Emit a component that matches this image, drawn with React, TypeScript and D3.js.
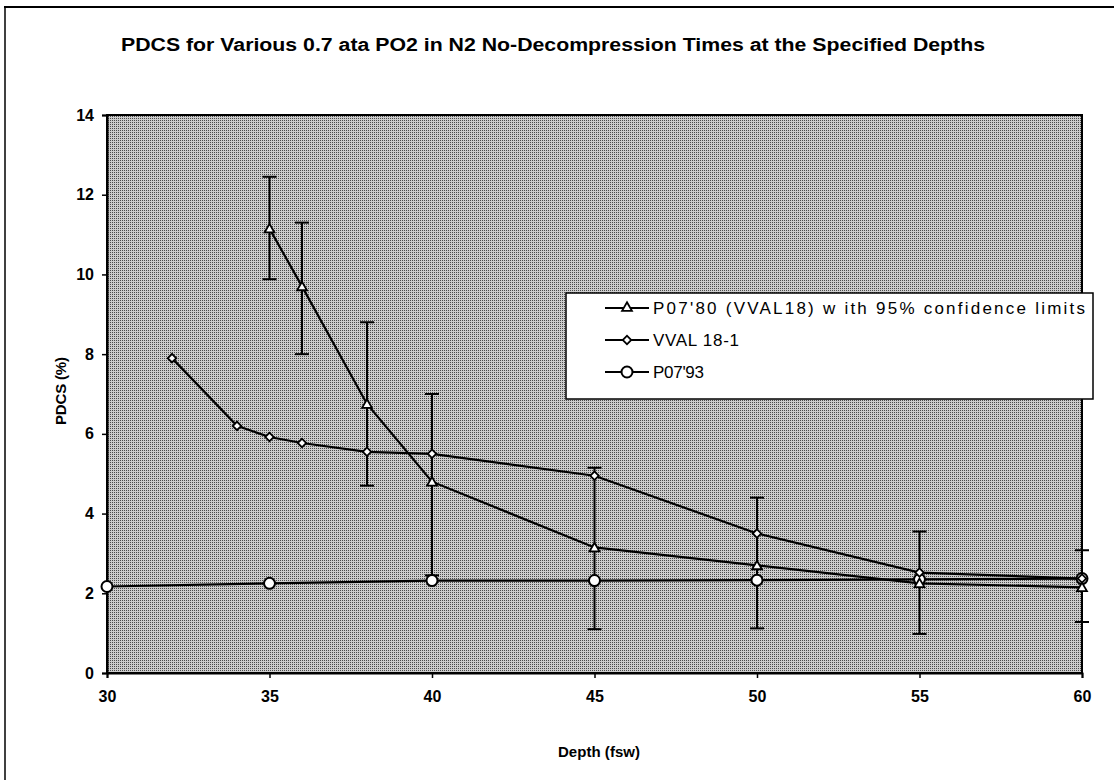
import { useEffect, useRef } from 'react';
import * as d3 from 'd3';

const depthsP0780 = [35, 36, 38, 40, 45, 50, 55, 60];
const pdcsP0780 = [11.15, 9.7, 6.75, 4.8, 3.15, 2.7, 2.25, 2.15];
const upperP0780 = [12.45, 11.3, 8.8, 7.0, 5.15, 4.4, 3.55, 3.08];
const lowerP0780 = [9.88, 8.0, 4.7, 2.45, 1.1, 1.12, 0.98, 1.28];

const depthsVval = [32, 34, 35, 36, 38, 40, 45, 50, 55, 60];
const pdcsVval = [7.9, 6.2, 5.92, 5.77, 5.55, 5.5, 4.95, 3.5, 2.52, 2.37];

const depthsP0793 = [30, 35, 40, 45, 50, 55, 60];
const pdcsP0793 = [2.17, 2.25, 2.32, 2.32, 2.33, 2.35, 2.37];

const xTicks = [30, 35, 40, 45, 50, 55, 60];
const yTicks = [0, 2, 4, 6, 8, 10, 12, 14];
const legendLabels = [
  "P07'80 (VVAL18) w ith 95% confidence limits",
  'VVAL 18-1',
  "P07'93",
];

type Pt = { x: number; y: number };
type G = d3.Selection<SVGGElement, unknown, null, undefined>;

export default function App() {
  const svgRef = useRef<SVGSVGElement>(null);

  useEffect(() => {
    if (!svgRef.current) return;
    const svg = d3.select(svgRef.current);
    svg.selectAll('*').remove();

    const W = 1114;
    const H = 780;
    const plot = { left: 107, right: 1082, top: 115, bottom: 673 };
    const font = '"Liberation Sans", Arial, sans-serif';

    const x = d3.scaleLinear().domain([30, 60]).range([plot.left, plot.right]);
    const y = d3.scaleLinear().domain([0, 14]).range([plot.bottom, plot.top]);

    svg.attr('width', W).attr('height', H).attr('viewBox', `0 0 ${W} ${H}`);
    svg.append('rect').attr('width', W).attr('height', H).attr('fill', '#fff');

    // dithered grey background, like the scanned original
    const defs = svg.append('defs');
    const pat = defs.append('pattern')
      .attr('id', 'dither')
      .attr('width', 2).attr('height', 2)
      .attr('patternUnits', 'userSpaceOnUse');
    pat.append('rect').attr('width', 2).attr('height', 2).attr('fill', '#cdcdcd');
    pat.append('rect').attr('width', 1).attr('height', 1).attr('fill', '#4c4c4c');

    // outer frame (top and left edges only)
    svg.append('line')
      .attr('x1', 4).attr('x2', W).attr('y1', 7).attr('y2', 7)
      .attr('stroke', '#000').attr('stroke-width', 2);
    svg.append('line')
      .attr('x1', 5).attr('x2', 5).attr('y1', 7).attr('y2', H)
      .attr('stroke', '#000').attr('stroke-width', 1.5);

    // title
    svg.append('text')
      .attr('x', 553).attr('y', 51)
      .attr('text-anchor', 'middle')
      .attr('font-family', font)
      .attr('font-weight', 'bold')
      .attr('font-size', '18px')
      .attr('textLength', 864)
      .attr('lengthAdjust', 'spacingAndGlyphs')
      .text('PDCS for Various 0.7 ata PO2 in N2 No-Decompression Times at the Specified Depths');

    // plot area
    svg.append('rect')
      .attr('x', plot.left).attr('y', plot.top)
      .attr('width', plot.right - plot.left)
      .attr('height', plot.bottom - plot.top)
      .attr('fill', 'url(#dither)')
      .attr('stroke', '#000')
      .attr('stroke-width', 2);

    // axes
    const gx = svg.append('g')
      .attr('transform', `translate(0, ${plot.bottom})`)
      .call(d3.axisBottom(x).tickValues(xTicks).tickSize(5).tickPadding(13));
    gx.select('.domain').attr('stroke', '#000').attr('stroke-width', 2);
    gx.selectAll('.tick line').attr('stroke', '#000').attr('stroke-width', 1.5);
    gx.selectAll('.tick text')
      .attr('font-family', font).attr('font-size', '16px').attr('font-weight', 'bold').attr('fill', '#000');

    const gy = svg.append('g')
      .attr('transform', `translate(${plot.left}, 0)`)
      .call(d3.axisLeft(y).tickValues(yTicks).tickSize(5).tickPadding(8));
    gy.select('.domain').attr('stroke', '#000').attr('stroke-width', 2);
    gy.selectAll('.tick line').attr('stroke', '#000').attr('stroke-width', 1.5);
    gy.selectAll('.tick text')
      .attr('font-family', font).attr('font-size', '16px').attr('font-weight', 'bold').attr('fill', '#000');

    svg.append('text')
      .attr('x', 599).attr('y', 757)
      .attr('text-anchor', 'middle')
      .attr('font-family', font).attr('font-weight', 'bold').attr('font-size', '15px')
      .attr('textLength', 82)
      .text('Depth (fsw)');

    svg.append('text')
      .attr('transform', 'translate(66, 391) rotate(-90)')
      .attr('text-anchor', 'middle')
      .attr('font-family', font).attr('font-weight', 'bold').attr('font-size', '15px')
      .attr('textLength', 68)
      .text('PDCS (%)');

    const line = d3.line<Pt>().x(d => x(d.x)).y(d => y(d.y));
    const toPts = (xs: number[], ys: number[]) => xs.map((v, i) => ({ x: v, y: ys[i] }));

    const p80 = toPts(depthsP0780, pdcsP0780);
    const vval = toPts(depthsVval, pdcsVval);
    const p93 = toPts(depthsP0793, pdcsP0793);

    const g = svg.append('g');

    // error bars for P07'80
    depthsP0780.forEach((d, i) => {
      const cx = x(d);
      g.append('line')
        .attr('x1', cx).attr('x2', cx)
        .attr('y1', y(upperP0780[i])).attr('y2', y(lowerP0780[i]))
        .attr('stroke', '#000').attr('stroke-width', 2);
      [upperP0780[i], lowerP0780[i]].forEach(v => {
        g.append('line')
          .attr('x1', cx - 7).attr('x2', cx + 7)
          .attr('y1', y(v)).attr('y2', y(v))
          .attr('stroke', '#000').attr('stroke-width', 2);
      });
    });

    [p93, vval, p80].forEach(pts => {
      g.append('path')
        .datum(pts)
        .attr('fill', 'none')
        .attr('stroke', '#000')
        .attr('stroke-width', 2.2)
        .attr('d', line);
    });

    const triangle = d3.symbol().type(d3.symbolTriangle).size(42);
    const square = d3.symbol().type(d3.symbolSquare).size(36);

    const drawCircle = (sel: G, cx: number, cy: number) =>
      sel.append('circle')
        .attr('cx', cx).attr('cy', cy).attr('r', 5.5)
        .attr('fill', '#fff').attr('stroke', '#000').attr('stroke-width', 2);
    const drawTriangle = (sel: G, cx: number, cy: number) =>
      sel.append('path')
        .attr('d', triangle() as string)
        .attr('transform', `translate(${cx}, ${cy})`)
        .attr('fill', '#fff').attr('stroke', '#000').attr('stroke-width', 1.8);
    const drawDiamond = (sel: G, cx: number, cy: number) =>
      sel.append('path')
        .attr('d', square() as string)
        .attr('transform', `translate(${cx}, ${cy}) rotate(45)`)
        .attr('fill', '#fff').attr('stroke', '#000').attr('stroke-width', 1.8);

    p93.forEach(p => drawCircle(g, x(p.x), y(p.y)));
    vval.forEach(p => drawDiamond(g, x(p.x), y(p.y)));
    p80.forEach(p => drawTriangle(g, x(p.x), y(p.y) + 1));

    // legend
    const lg = svg.append('g').attr('transform', 'translate(566, 293)');
    lg.append('rect')
      .attr('width', 527).attr('height', 106)
      .attr('fill', '#fff').attr('stroke', '#000').attr('stroke-width', 1.5);
    const labelWidths = [432, 86, 51];
    legendLabels.forEach((label, i) => {
      const ly = 15 + i * 32;
      const row = lg.append('g');
      row.append('line')
        .attr('x1', 39).attr('x2', 83).attr('y1', ly).attr('y2', ly)
        .attr('stroke', '#000').attr('stroke-width', 2);
      if (i === 0) drawTriangle(row, 61, ly);
      else if (i === 1) drawDiamond(row, 61, ly);
      else drawCircle(row, 61, ly);
      row.append('text')
        .attr('x', 87).attr('y', ly + 6)
        .attr('font-family', font).attr('font-size', '17px')
        .attr('textLength', labelWidths[i])
        .text(label);
    });
  }, []);

  return (
    <svg
      ref={svgRef}
      style={{ position: 'absolute', left: 0, top: 0, display: 'block' }}
    />
  );
}
